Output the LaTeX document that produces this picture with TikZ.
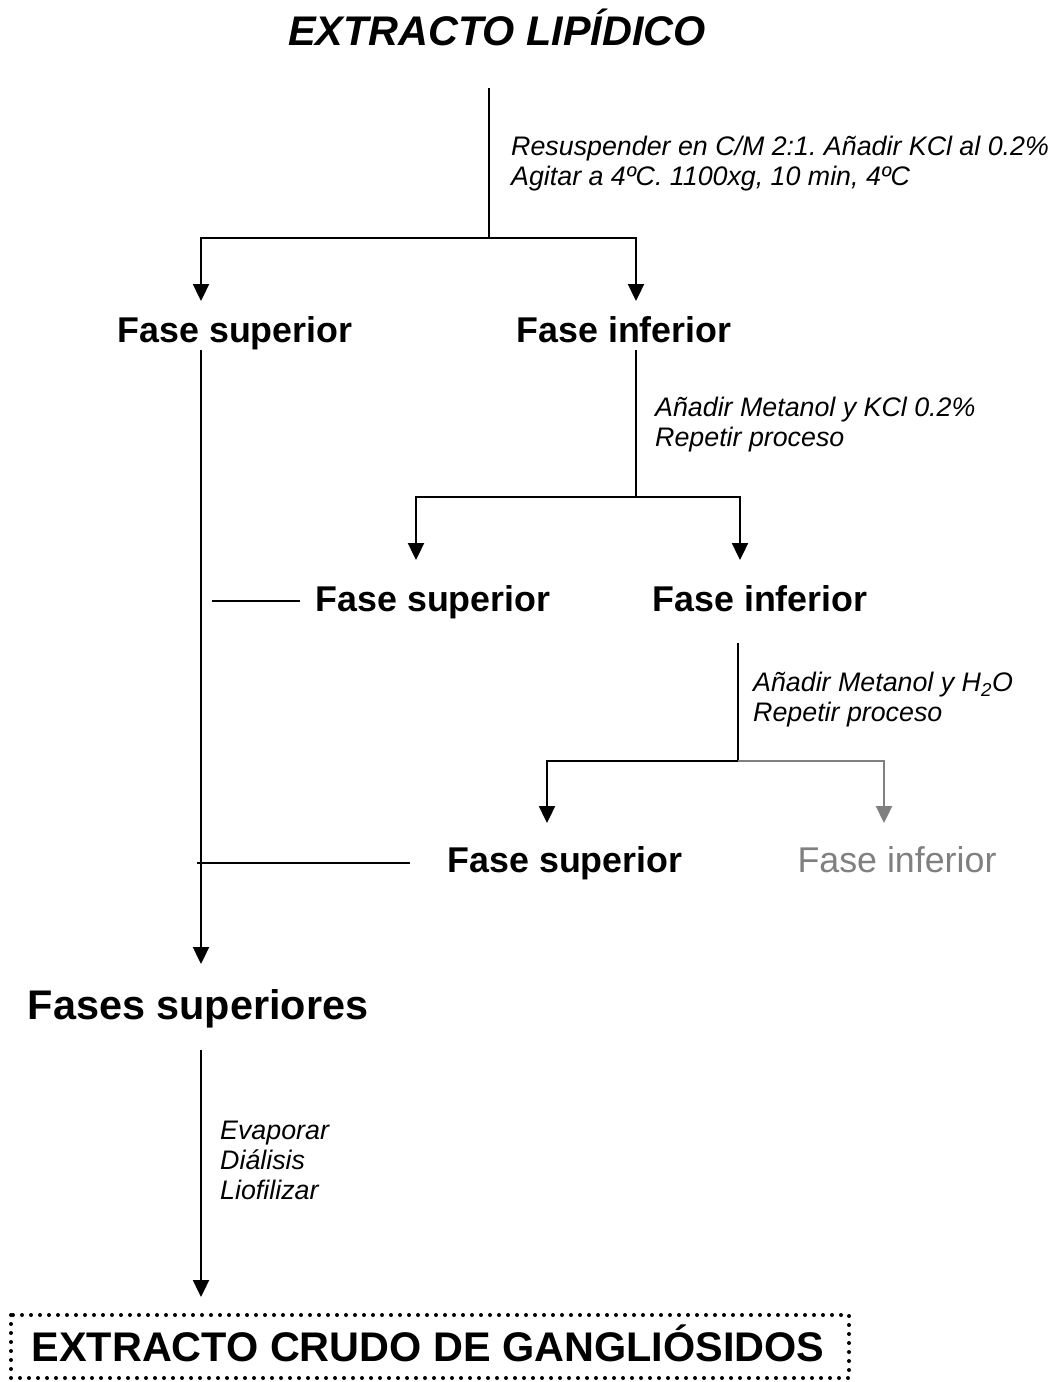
\documentclass[tikz,border=0pt]{standalone}
\usepackage{fontspec}
\setmainfont{Liberation Sans}
\usetikzlibrary{arrows.meta}
\frenchspacing
\begin{document}
\begin{tikzpicture}[x=1pt,y=-1pt,
  ln/.style={line width=2.3pt},
  arr/.style={ln,-{Triangle[length=17pt,width=16pt]}},
  phase/.style={font=\fontsize{35.8}{40}\selectfont\bfseries, inner sep=0pt, anchor=base},
  big/.style={font=\fontsize{41.4}{46}\selectfont\bfseries, inner sep=0pt, anchor=base},
  note/.style={font=\fontsize{26.8}{30}\selectfont\itshape, inner sep=0pt, anchor=west, align=left},
  faint/.style={black!50}
]
\useasboundingbox (0,0) rectangle (1050,1382);

% headings and phases
\node[big,font=\fontsize{41.4}{46}\selectfont\bfseries\itshape] (title) at (497,45) {EXTRACTO LIPÍDICO};
\node[phase] (fs1) at (235,342) {Fase superior};
\node[phase] (fi1) at (624,342) {Fase inferior};
\node[phase] (fs2) at (433,611) {Fase superior};
\node[phase] (fi2) at (760,611) {Fase inferior};
\node[phase] (fs3) at (565,872) {Fase superior};
\node[phase,font=\fontsize{35.8}{40}\selectfont,text=black!50] (fi3) at (897,872) {Fase inferior};
\node[big] (fss) at (198,1019) {Fases superiores};
\node[big] (crudo) at (428,1361) {EXTRACTO CRUDO DE GANGLIÓSIDOS};

% dotted frame round the final product
\draw[line width=4pt,line cap=round,dash pattern=on 0pt off 9pt] (11,1315) rectangle (849,1378);

% procedure notes
\node[note] (n1) at (511,164) {Resuspender en C/M 2:1. Añadir KCl al 0.2\%\\Agitar a 4ºC. 1100xg, 10 min, 4ºC};
\node[note] (n2) at (655,425) {Añadir Metanol y KCl 0.2\%\\Repetir proceso};
\node[note] (n3) at (753,700) {Añadir Metanol y H\textsubscript{2}O\\Repetir proceso};
\node[note] (n4) at (220,1160) {Evaporar\\Diálisis\\Liofilizar};

% junction points and arrow ends
\coordinate (s0) at (489,88);   \coordinate (j0) at (489,238);
\coordinate (a1) at (201,301);  \coordinate (b1) at (636,301);
\coordinate (s1) at (636,350);  \coordinate (j1) at (636,497);
\coordinate (a2) at (416,560);  \coordinate (b2) at (740,560);
\coordinate (s2) at (738,643);  \coordinate (j2) at (738,761);
\coordinate (a3) at (547,823);  \coordinate (b3) at (884,823);
\coordinate (u0) at (201,350);  \coordinate (u1) at (201,964);
\coordinate (m2) at (212,601);  \coordinate (e2) at (300,601);
\coordinate (m3) at (197,863);  \coordinate (e3) at (410,863);
\coordinate (v0) at (201,1050); \coordinate (v1) at (201,1297);

% first split
\draw[ln] (s0) -- (j0);
\draw[arr] (j0) -| (a1);
\draw[arr] (j0) -| (b1);

% second split
\draw[ln] (s1) -- (j1);
\draw[arr] (j1) -| (a2);
\draw[arr] (j1) -| (b2);

% third split
\draw[ln] (s2) -- (j2);
\draw[arr] (j2) -| (a3);
\draw[arr,faint] (j2) -| (b3);

% upper phases collected
\draw[arr] (u0) -- (u1);
\draw[ln] (m2) -- (e2);
\draw[ln] (m3) -- (e3);
\draw[arr] (v0) -- (v1);
\end{tikzpicture}
\end{document}
